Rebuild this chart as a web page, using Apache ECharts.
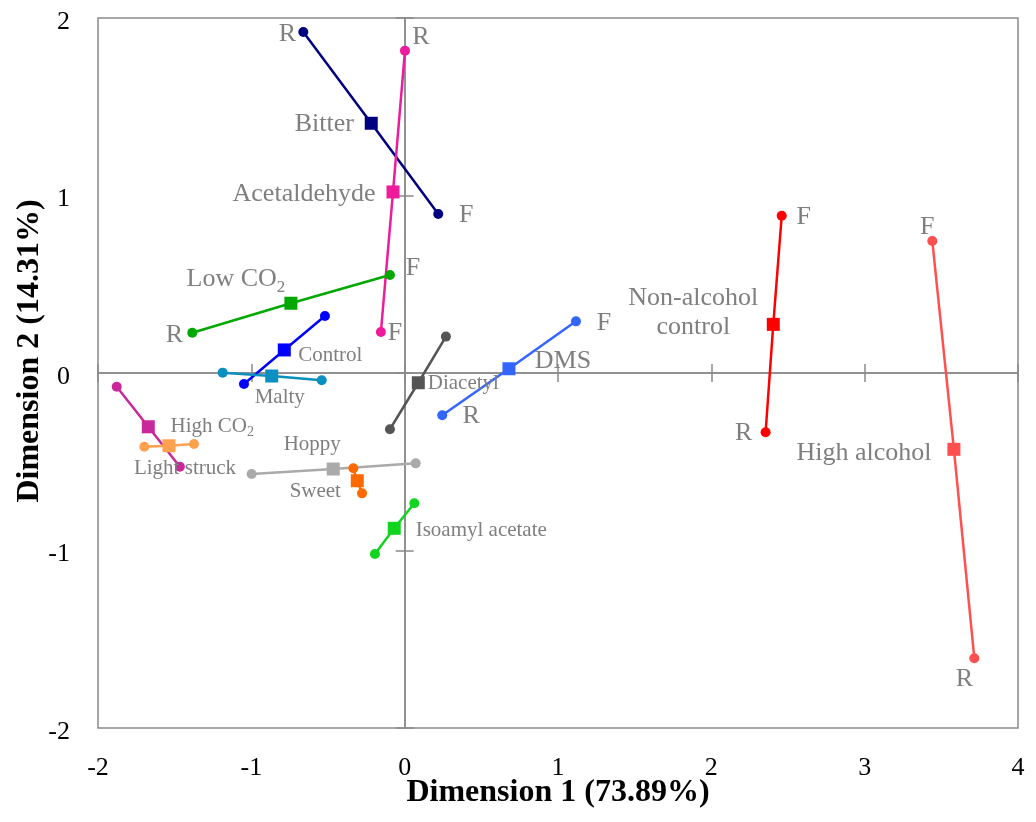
<!DOCTYPE html>
<html>
<head>
<meta charset="utf-8">
<script src="https://cdn.jsdelivr.net/npm/echarts@6/dist/echarts.min.js"></script>
<style>
  html, body { margin: 0; padding: 0; background: #fff; }
  #chart { width: 1036px; height: 822px; }
</style>
</head>
<body>
<div id="chart"></div>
<script>
// Perceptual map: each attribute drawn as [R end, mean, F end] in Dimension 1 / Dimension 2 space.
const xTicks = [-2, -1, 0, 1, 2, 3, 4];
const yTicks = [-2, -1, 0, 1, 2];

const groupNames = ['Bitter', 'Acetaldehyde', 'Low CO2', 'Control', 'Malty', 'High CO2',
  'Light struck', 'Diacetyl', 'DMS', 'Hoppy', 'Sweet', 'Isoamyl acetate',
  'Non-alcohol control', 'High alcohol'];

const bitter        = [[-0.661, 1.921], [-0.218, 1.407], [0.219, 0.896]];
const acetaldehyde  = [[0.002, 1.816], [-0.076, 1.020], [-0.155, 0.231]];
const lowCO2        = [[-1.385, 0.227], [-0.742, 0.393], [-0.096, 0.552]];
const control       = [[-1.048, -0.062], [-0.785, 0.130], [-0.520, 0.321]];
const malty         = [[-1.187, 0.002], [-0.867, -0.017], [-0.541, -0.041]];
const highCO2       = [[-1.878, -0.077], [-1.672, -0.303], [-1.466, -0.528]];
const lightStruck   = [[-1.698, -0.415], [-1.537, -0.410], [-1.374, -0.400]];
const diacetyl      = [[-0.096, -0.317], [0.089, -0.055], [0.269, 0.205]];
const dms           = [[0.245, -0.238], [0.680, 0.024], [1.117, 0.291]];
const hoppy         = [[-0.998, -0.569], [-0.466, -0.541], [0.072, -0.509]];
const sweet         = [[-0.335, -0.537], [-0.309, -0.607], [-0.278, -0.678]];
const isoamyl       = [[0.063, -0.734], [-0.068, -0.875], [-0.194, -1.020]];
const nonAlcohol    = [[2.354, -0.334], [2.404, 0.274], [2.459, 0.886]];
const highAlcohol   = [[3.715, -1.607], [3.582, -0.430], [3.441, 0.744]];

// End tags: which groups carry R / F labels on their end points
const endTags = ['R', 'F'];
const taggedGroups = ['Bitter', 'Acetaldehyde', 'Low CO2', 'DMS', 'Non-alcohol control', 'High alcohol'];

const groupPoints = [bitter, acetaldehyde, lowCO2, control, malty, highCO2, lightStruck,
  diacetyl, dms, hoppy, sweet, isoamyl, nonAlcohol, highAlcohol];

// ---- styling ----
const FONT = '"Liberation Serif", "Times New Roman", serif';
const TEXT_GREY = '#7f7f7f';
const AXIS_GREY = '#8a8a8a';

const colors = {
  'Bitter': '#000080',
  'Acetaldehyde': '#ee1b9c',
  'Low CO2': '#00a800',
  'Control': '#0000ff',
  'Malty': '#0a8fc0',
  'High CO2': '#c8289a',
  'Light struck': '#ffa14f',
  'Diacetyl': '#555555',
  'DMS': '#3366ff',
  'Hoppy': '#aaaaaa',
  'Sweet': '#ff6a00',
  'Isoamyl acetate': '#11d41e',
  'Non-alcohol control': '#ff0000',
  'High alcohol': '#ff4f4f'
};

// label placement: [name offset, R offset, F offset] in pixels from the point, plus font size
const labelLayout = {
  'Bitter':              { name: [-47, 1],  size: 26, r: [-16, 2],  f: [28, 1] },
  'Acetaldehyde':        { name: [-89, 2],  size: 26, r: [16, -13], f: [14, 1] },
  'Low CO2':             { name: [-55, -22], size: 26, r: [-18, 2], f: [23, -7] },
  'Control':             { name: [46, 6],   size: 21 },
  'Malty':               { name: [8, 21],   size: 21 },
  'High CO2':            { name: [64, 1],   size: 21 },
  'Light struck':        { name: [16, 23],  size: 21 },
  'Diacetyl':            { name: [45, 1],   size: 21 },
  'DMS':                 { name: [54, -8],  size: 26, r: [29, 1],  f: [28, 2] },
  'Hoppy':               { name: [-21, -25], size: 21 },
  'Sweet':               { name: [-42, 11], size: 21 },
  'Isoamyl acetate':     { name: [87, 2],   size: 21 },
  'Non-alcohol control': { name: [-80, -12], size: 26, r: [-22, 1], f: [22, 1] },
  'High alcohol':        { name: [-90, 4],  size: 26, r: [-10, 21], f: [-5, -14] }
};

function nameLabel(name, lay) {
  const base = {
    show: true, position: 'inside', offset: lay.name,
    color: TEXT_GREY, fontFamily: FONT, fontSize: lay.size
  };
  if (name === 'Low CO2' || name === 'High CO2') {
    const sub = Math.round(lay.size * 0.66);
    return Object.assign(base, {
      formatter: '{m|' + name.slice(0, -1) + '}{s|2}',
      rich: {
        m: { fontSize: lay.size, fontFamily: FONT, color: TEXT_GREY, verticalAlign: 'top', lineHeight: lay.size },
        s: { fontSize: sub, fontFamily: FONT, color: TEXT_GREY, verticalAlign: 'bottom', lineHeight: lay.size + Math.round(lay.size / 7) }
      }
    });
  }
  if (name === 'Non-alcohol control') {
    return Object.assign(base, { formatter: 'Non-alcohol\ncontrol', lineHeight: 29, align: 'center' });
  }
  return Object.assign(base, { formatter: name });
}

function tagLabel(tag, off) {
  return {
    show: true, position: 'inside', offset: off, formatter: tag,
    color: TEXT_GREY, fontFamily: FONT, fontSize: 26
  };
}

const series = groupNames.map((name, gi) => {
  const pts = groupPoints[gi];
  const lay = labelLayout[name];
  const tagged = taggedGroups.indexOf(name) >= 0;
  const data = pts.map((p, i) => {
    const item = {
      value: p,
      symbol: i === 1 ? 'rect' : 'circle',
      symbolSize: i === 1 ? 13 : 10
    };
    if (i === 1) item.label = nameLabel(name, lay);
    else if (tagged) item.label = tagLabel(i === 0 ? endTags[0] : endTags[1], i === 0 ? lay.r : lay.f);
    return item;
  });
  return {
    name: name,
    type: 'line',
    xAxisIndex: 0,
    yAxisIndex: 0,
    data: data,
    showSymbol: true,
    showAllSymbol: true,
    color: colors[name],
    itemStyle: { color: colors[name] },
    lineStyle: { color: colors[name], width: 2.5 },
    label: { show: false },
    emphasis: { disabled: true },
    silent: true,
    z: 3
  };
});

const xMin = xTicks[0], xMax = xTicks[xTicks.length - 1];
const yMin = yTicks[0], yMax = yTicks[yTicks.length - 1];

function zeroAxis(min, max, inside) {
  return {
    type: 'value', min: min, max: max, interval: 1,
    axisLine: { show: true, onZero: true, onZeroAxisIndex: 0, lineStyle: { color: AXIS_GREY, width: 1.5 } },
    axisTick: { show: true, inside: inside, length: 9, lineStyle: { color: AXIS_GREY, width: 1.5 } },
    axisLabel: { show: false },
    splitLine: { show: false }
  };
}

const option = {
  animation: false,
  backgroundColor: '#ffffff',
  grid: {
    left: 98, right: 18, top: 18, bottom: 94,
    outerBoundsMode: 'none',
    containLabel: false,
    show: true, borderColor: AXIS_GREY, borderWidth: 1.5, backgroundColor: 'transparent'
  },
  xAxis: [
    {
      type: 'value', min: xMin, max: xMax, interval: 1, position: 'bottom',
      axisLine: { show: false, onZero: false },
      axisTick: { show: false },
      splitLine: { show: false },
      axisLabel: { fontSize: 26, color: '#000', fontFamily: FONT, margin: 27 },
      name: 'Dimension 1 (73.89%)', nameLocation: 'middle', nameGap: 49, nameMoveOverlap: false,
      nameTextStyle: { fontSize: 32, fontWeight: 'bold', color: '#000', fontFamily: FONT }
    },
    Object.assign(zeroAxis(xMin, xMax, false), { position: 'bottom' }),
    Object.assign(zeroAxis(xMin, xMax, true), { position: 'bottom' })
  ],
  yAxis: [
    {
      type: 'value', min: yMin, max: yMax, interval: 1, position: 'left',
      axisLine: { show: false, onZero: false },
      axisTick: { show: false },
      splitLine: { show: false },
      axisLabel: { fontSize: 26, color: '#000', fontFamily: FONT, margin: 28, verticalAlign: 'top', lineHeight: 8 },
      name: 'Dimension 2 (14.31%)', nameLocation: 'middle', nameGap: 52, nameMoveOverlap: false,
      nameTextStyle: { fontSize: 32, fontWeight: 'bold', color: '#000', fontFamily: FONT, padding: [0, 0, 0, 44] }
    },
    Object.assign(zeroAxis(yMin, yMax, false), { position: 'left' }),
    Object.assign(zeroAxis(yMin, yMax, true), { position: 'left' })
  ],
  series: series
};

const chart = echarts.init(document.getElementById('chart'), null, { renderer: 'canvas' });
chart.setOption(option);
</script>
</body>
</html>
